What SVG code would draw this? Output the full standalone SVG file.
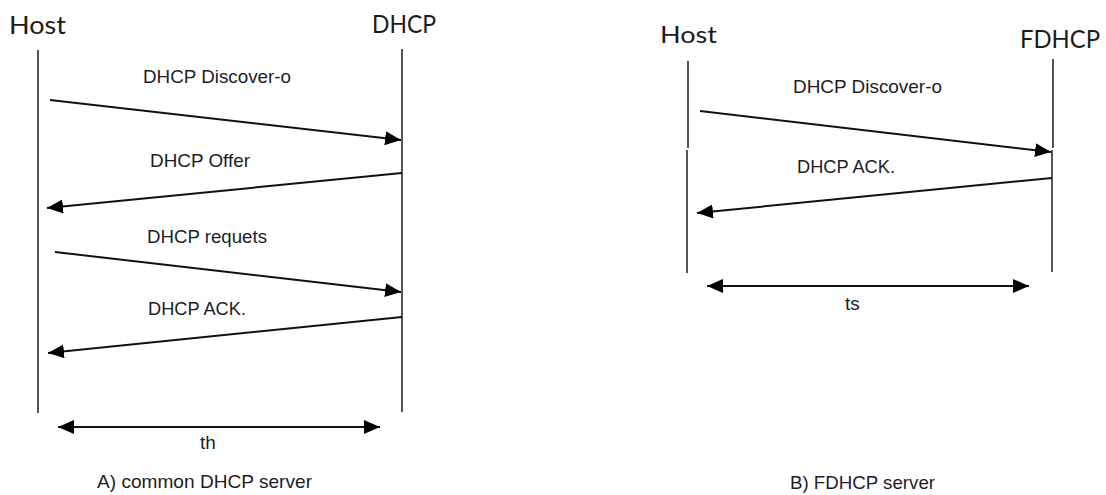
<svg xmlns="http://www.w3.org/2000/svg" width="1106" height="495" viewBox="0 0 1106 495">
  <style>
    .head { font-family: "Lato", "Open Sans", sans-serif; fill: #1b1b1b; }
    .lbl { font-family: "Liberation Sans", Arial, sans-serif; font-size: 19px; fill: #1c1c24; }
    .life { stroke: #2a2a2a; stroke-width: 1.6; fill: none; }
    .msg { stroke: #111; stroke-width: 2; fill: none; marker-end: url(#ah); }
    .span { stroke: #111; stroke-width: 2.2; fill: none; marker-start: url(#ah); marker-end: url(#ah); }
  </style>
  <defs>
    <marker id="ah" markerUnits="userSpaceOnUse" markerWidth="17" markerHeight="14" refX="16" refY="7" orient="auto-start-reverse">
      <path d="M0,0 L16,7 L0,14 z" fill="#000"/>
    </marker>
  </defs>
  <rect width="1106" height="495" fill="#fff"/>

  <!-- A) common DHCP server -->
  <g id="hostA">
    <text class="head" x="9" y="34" font-size="25" textLength="57" lengthAdjust="spacingAndGlyphs">Host</text>
    <line class="life" x1="38" y1="50" x2="38" y2="413"/>
  </g>
  <g id="dhcpA">
    <text class="head" x="372" y="33" font-size="25" textLength="64" lengthAdjust="spacingAndGlyphs">DHCP</text>
    <line class="life" x1="402" y1="49" x2="402" y2="412"/>
  </g>

  <!-- B) FDHCP server -->
  <g id="hostB">
    <text class="head" x="660" y="43" font-size="23.5" textLength="57" lengthAdjust="spacingAndGlyphs">Host</text>
    <line class="life" x1="688" y1="61" x2="688" y2="148"/>
    <line class="life" x1="687" y1="150" x2="687" y2="273"/>
  </g>
  <g id="fdhcpB">
    <text class="head" x="1020" y="48" font-size="25" textLength="80" lengthAdjust="spacingAndGlyphs">FDHCP</text>
    <line class="life" x1="1053" y1="59" x2="1053" y2="148"/>
    <line class="life" x1="1052" y1="150" x2="1052" y2="272"/>
  </g>

  <g id="connectors">
    <!-- exchange A -->
    <line class="msg" x1="50" y1="100" x2="401" y2="140"/>
    <line class="msg" x1="402" y1="173" x2="47" y2="208"/>
    <line class="msg" x1="55" y1="252" x2="401" y2="292"/>
    <line class="msg" x1="402" y1="317" x2="48" y2="353"/>
    <line class="span" x1="58" y1="427" x2="380" y2="427"/>
    <!-- exchange B -->
    <line class="msg" x1="700" y1="111" x2="1051" y2="152"/>
    <line class="msg" x1="1052" y1="178" x2="697" y2="213"/>
    <line class="span" x1="707" y1="286" x2="1029" y2="286"/>
  </g>

  <g id="labels">
    <text class="lbl" x="143" y="83" textLength="148" lengthAdjust="spacingAndGlyphs">DHCP Discover-o</text>
    <text class="lbl" x="150" y="167" textLength="100" lengthAdjust="spacingAndGlyphs">DHCP Offer</text>
    <text class="lbl" x="147" y="243" textLength="120" lengthAdjust="spacingAndGlyphs">DHCP requets</text>
    <text class="lbl" x="148" y="315" textLength="98" lengthAdjust="spacingAndGlyphs">DHCP ACK.</text>
    <text class="lbl" x="200" y="449">th</text>
    <text class="lbl" x="97" y="488" textLength="215" lengthAdjust="spacingAndGlyphs">A) common DHCP server</text>

    <text class="lbl" x="793" y="93" textLength="149" lengthAdjust="spacingAndGlyphs">DHCP Discover-o</text>
    <text class="lbl" x="797" y="173" textLength="98" lengthAdjust="spacingAndGlyphs">DHCP ACK.</text>
    <text class="lbl" x="845" y="310">ts</text>
    <text class="lbl" x="790" y="489" font-size="16.5" textLength="145" lengthAdjust="spacingAndGlyphs">B) FDHCP server</text>
  </g>
</svg>
